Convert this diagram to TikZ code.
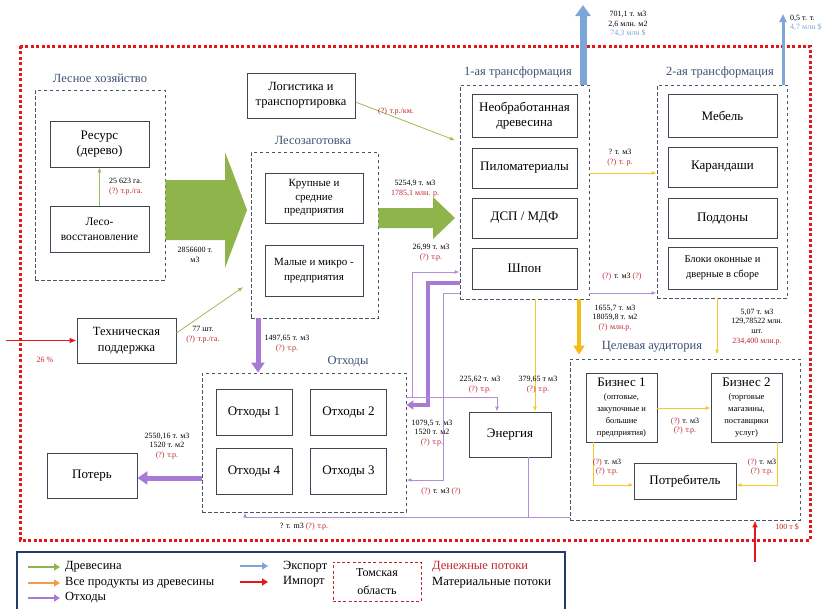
\documentclass[tikz,border=0pt]{standalone}
\usepackage{fontspec}
\setmainfont{Liberation Serif}
\usetikzlibrary{arrows.meta}
\definecolor{woodg}{RGB}{142,180,75}
\definecolor{woodgl}{RGB}{155,188,88}
\definecolor{purp}{RGB}{168,122,212}
\definecolor{purpl}{RGB}{178,142,216}
\definecolor{amber}{RGB}{245,188,20}
\definecolor{amberl}{RGB}{244,200,40}
\definecolor{orng}{RGB}{243,156,70}
\definecolor{expb}{RGB}{125,165,215}
\definecolor{impr}{RGB}{230,22,30}
\definecolor{brdr}{RGB}{226,24,24}
\definecolor{boxc}{RGB}{60,70,85}
\definecolor{grpc}{RGB}{75,85,100}
\definecolor{labc}{RGB}{60,80,112}
\definecolor{moneyc}{RGB}{192,36,44}
\definecolor{legc}{RGB}{35,60,105}
\newcommand\mr[1]{\textcolor{moneyc}{#1}}
\newcommand\eb[1]{\textcolor{expb}{#1}}
\begin{document}
\begin{tikzpicture}[x=1pt,y=-1pt,
  box/.style={draw=boxc, line width=0.9, fill=white, align=center, inner sep=1, text=black},
  grp/.style={draw=grpc, line width=0.9, dash pattern=on 3.5 off 2.5},
  glabel/.style={text=labc, font=\fontsize{12.5}{14}\selectfont, inner sep=0},
  lab/.style={font=\fontsize{8}{9.8}\selectfont, align=center, inner sep=0},
  gthin/.style={draw=woodgl, line width=0.8, -{Latex[length=5,width=4]}},
  ythin/.style={draw=amberl, line width=0.9, -{Latex[length=5,width=4]}},
  ythick/.style={draw=amber, line width=4.5, -{Triangle[length=9,width=11]}},
  pthin/.style={draw=purpl, line width=0.9, -{Latex[length=5,width=4]}},
  pthick/.style={draw=purp, line width=5, -{Triangle[length=10,width=13]}},
  pmid/.style={draw=purp, line width=4, -{Triangle[length=7,width=9]}},
  impa/.style={draw=impr, line width=1.8, -{Latex[length=7,width=6]}},
  expa/.style={draw=expb, line width=3, -{Triangle[length=8,width=7]}},
]
\useasboundingbox (0,0) rectangle (829,608);
\clip (0,0) rectangle (829,608);

% Tomsk region border
\draw[brdr, line width=3, dash pattern=on 3 off 2.4] (20,46) rectangle (810,540);

% ---------- Forestry ----------
\node[glabel] (lhlab) at (100,78) {Лесное хозяйство};
\node[grp, minimum width=130, minimum height=190] (lh) at (100,185) {};
\node[box, minimum width=99, minimum height=46, font=\fontsize{13}{15.5}\selectfont] (res) at (99.5,144) {Ресурс\\(дерево)};
\node[box, minimum width=99, minimum height=46, font=\fontsize{11.5}{15}\selectfont] (leso) at (99.5,229) {Лесо-\\восстановление};
\draw[gthin] (leso.north) -- (res.south);
\node[lab, anchor=west, align=left] at (109,187) {25 623 га.\\\mr{(?) т.р./га.}};

% ---------- Logistics ----------
\node[box, minimum width=108, minimum height=45, font=\fontsize{12.5}{15}\selectfont] (log) at (301,95.5) {Логистика и\\транспортировка};

% ---------- Harvesting ----------
\node[glabel] (lzlab) at (313,140) {Лесозаготовка};
\node[grp, minimum width=127, minimum height=166] (lzg) at (314.5,235) {};
\node[box, minimum width=98, minimum height=50, font=\fontsize{11}{13.5}\selectfont] (krup) at (314,198) {Крупные и\\средние\\предприятия};
\node[box, minimum width=98, minimum height=51, font=\fontsize{11}{15.5}\selectfont] (maly) at (314,270.5) {Малые и микро -\\предприятия};

% ---------- Transformation 1 ----------
\node[glabel] (t1lab) at (518,72) {1-ая трансформация};
\node[grp, minimum width=129, minimum height=214] (t1) at (524.5,192) {};
\begin{scope}[every node/.style={box, minimum width=105, font=\fontsize{13}{15.5}\selectfont}]
\node[minimum height=43] (neo) at (524.5,115.5) {Необработанная\\древесина};
\node[minimum height=40] (pilo) at (524.5,168) {Пиломатериалы};
\node[minimum height=40] (dsp) at (524.5,218) {ДСП / МДФ};
\node[minimum height=41] (shp) at (524.5,268.5) {Шпон};
\end{scope}

% ---------- Transformation 2 ----------
\node[glabel] (t2lab) at (720,72) {2-ая трансформация};
\node[grp, minimum width=130, minimum height=213] (t2) at (722,191.5) {};
\begin{scope}[every node/.style={box, minimum width=109, font=\fontsize{13}{15.5}\selectfont}]
\node[minimum height=43] (meb) at (722.5,115.5) {Мебель};
\node[minimum height=40] (kar) at (722.5,167) {Карандаши};
\node[minimum height=40] (pod) at (722.5,218) {Поддоны};
\node[minimum height=42, font=\fontsize{10.5}{15}\selectfont] (blk) at (722.5,268) {Блоки оконные и\\дверные в сборе};
\end{scope}

% ---------- Target audience ----------
\node[glabel] (tglab) at (652,347) {Целевая аудитория};
\node[grp, minimum width=230, minimum height=161] (tgt) at (685,439.5) {};
\node[box, minimum width=71, minimum height=69] (b1) at (621.5,407.5) {{\fontsize{13}{14}\selectfont Бизнес 1}\\[1pt]{\fontsize{8.5}{10}\selectfont (оптовые,}\\{\fontsize{8.5}{10}\selectfont закупочные и}\\{\fontsize{8.5}{10}\selectfont большие}\\{\fontsize{8.5}{10}\selectfont предприятия)}};
\node[box, minimum width=71, minimum height=69] (b2) at (746.5,407.5) {{\fontsize{13}{14}\selectfont Бизнес 2}\\[1pt]{\fontsize{8.5}{10}\selectfont (торговые}\\{\fontsize{8.5}{10}\selectfont магазины,}\\{\fontsize{8.5}{10}\selectfont поставщики}\\{\fontsize{8.5}{10}\selectfont услуг)}};
\node[box, minimum width=102, minimum height=36, font=\fontsize{13}{15}\selectfont] (pot) at (685,481) {Потребитель};

% ---------- Energy ----------
\node[box, minimum width=82, minimum height=45, font=\fontsize{13}{15}\selectfont] (en) at (510,434.5) {Энергия};

% ---------- Waste ----------
\node[glabel] (otlab) at (348,362) {Отходы};
\node[grp, minimum width=204, minimum height=139] (otk) at (304,442.5) {};
\begin{scope}[every node/.style={box, minimum width=76, minimum height=46, font=\fontsize{13}{15}\selectfont}]
\node (o1) at (254,412) {Отходы 1};
\node (o2) at (348.5,412) {Отходы 2};
\node (o4) at (254,471) {Отходы 4};
\node (o3) at (348.5,471) {Отходы 3};
\end{scope}

% ---------- Losses, technical support ----------
\node[box, minimum width=90, minimum height=45, font=\fontsize{13}{15}\selectfont] (los) at (92,475.5) {Потерь};
\node[box, minimum width=99, minimum height=45, font=\fontsize{12.5}{15.5}\selectfont] (tech) at (126.5,340.5) {Техническая\\поддержка};

% ================= connectors =================
% big green arrows
\fill[woodg] (lh.east |- 0,180) -- (225,180) -- (225,152) -- (247,210) -- (225,268) -- (225,240) -- (lh.east |- 0,240) -- cycle;
\node[lab] at (195,255) {2856600 т.\\м3};
\fill[woodg] (lzg.east |- 0,208) -- (433,208) -- (433,197) -- (455,218) -- (433,239) -- (433,228) -- (lzg.east |- 0,228) -- cycle;
\node[lab] at (415,189) {5254,9 т. м3\\\mr{1785,1 млн. р.}};

% logistics -> T1
\draw[gthin, shorten >=5] (log.east |- 0,102) -- (t1.west |- 0,142);
\node[lab] at (396,112) {\mr{(?) т.р./км.}};

% tech support -> harvesting
\draw[gthin, shorten >=9] (tech.east |- 0,333) -- (lzg.west |- 0,282);
\node[lab] at (203,335) {77 шт.\\\mr{(?) т.р./га.}};

% import -> tech
\coordinate (imp1) at (6,340.5);
\draw[impa] (imp1) -- (tech.west);
\node[lab] at (45,360) {\mr{26 \%}};

% exports
\coordinate (ex1) at (583,5);
\draw[draw=expb, line width=7, -{Triangle[length=11,width=15]}] (t1.north -| ex1) -- (ex1);
\node[lab] at (628,24) {701,1 т. м3\\2,6 млн. м2\\\eb{74,3 млн \$}};
\coordinate (ex2) at (783,14);
\draw[expa] (t2.north -| ex2) -- (ex2);
\node[lab, anchor=west, align=left] at (790,23) {0,5 т. т.\\\eb{4,7 млн \$}};

% T1 -> T2
\draw[ythin] (t1.east |- 0,173) -- (t2.west |- 0,173);
\node[lab] at (620,158) {? т. м3\\\mr{(?) т. р.}};
\draw[pthin] (t1.east |- 0,293) -- (t2.west |- 0,293);
\node[lab] at (622,277) {\mr{(?)} т. м3 \mr{(?)}};

% T1 -> target, T1 -> energy
\coordinate (ya) at (579,0);
\draw[ythick] (t1.south -| ya) -- ([yshift=4]tgt.north -| ya);
\node[lab] at (615,318) {1655,7 т. м3\\18059,8 т. м2\\\mr{(?) млн.р.}};
\coordinate (yb) at (535,0);
\draw[ythin] (t1.south -| yb) -- (en.north -| yb);
\node[lab] at (538,385) {379,65 т м3\\\mr{(?) т.р.}};

% T2 -> target
\coordinate (yc) at (717,0);
\draw[ythin] (t2.south -| yc) -- ([yshift=4]tgt.north -| yc);
\node[lab] at (757,327) {5,07 т. м3\\129,78522 млн.\\шт.\\\mr{234,400 млн.р.}};

% within target
\draw[ythin] (b1.east |- 0,408) -- (b2.west |- 0,408);
\node[lab] at (685,426) {\mr{(?)} т. м3\\\mr{(?) т.р.}};
\coordinate (yd) at (593,0);
\draw[ythin] (b1.south -| yd) |- (pot.west |- 0,485);
\node[lab] at (607,467) {\mr{(?)} т. м3\\\mr{(?) т.р.}};
\coordinate (ye) at (777,0);
\draw[ythin] (b2.south -| ye) |- (pot.east |- 0,485);
\node[lab] at (762,467) {\mr{(?)} т. м3\\\mr{(?) т.р.}};

% import -> target
\coordinate (imp2) at (755,562);
\draw[impa] (imp2) -- (tgt.south -| imp2);
\node[lab] at (787,527) {\mr{100 т \$}};

% harvesting -> waste
\coordinate (pa) at (258,0);
\draw[pthick] (lzg.south -| pa) -- (otk.north -| pa);
\node[lab] at (287,344) {1497,65 т. м3\\\mr{(?) т.р.}};

% waste -> losses
\draw[pthick] (otk.west |- 0,478) -- (los.east |- 0,478);
\node[lab] at (167,446) {2550,16 т. м3\\1520 т. м2\\\mr{(?) т.р.}};

% T1 -> waste (thick)
\draw[pmid] (t1.west |- 0,283) -| (428,405) -- (otk.east |- 0,405);
\node[lab] at (432,433) {1079,5 т. м3\\1520 т. м2\\\mr{(?) т.р.}};

% waste -> T1 (thin)
\draw[pthin] (otk.east |- 0,397) -- (412,397) |- (t1.west |- 0,272);
\node[lab] at (431,253) {26,99 т. м3\\\mr{(?) т.р.}};

% waste -> energy
\coordinate (pb) at (497,0);
\draw[pthin] (otk.east |- 0,397) -| (en.north -| pb);
\node[lab] at (480,385) {225,62 т. м3\\\mr{(?) т.р.}};

% T1 -> waste (thin, lower)
\draw[pthin] (t1.west |- 0,293) -| (443,480) -- (otk.east |- 0,480);
\node[lab] at (441,492) {\mr{(?)} т. м3 \mr{(?)}};

% energy / target -> waste (bottom)
\coordinate (pc) at (245,0);
\draw[pthin] (tgt.west |- 0,517) -- (pc |- 0,517) -- (otk.south -| pc);
\coordinate (pd) at (528,0);
\draw[draw=purpl, line width=0.9] (en.south -| pd) -- (pd |- 0,517);
\node[lab] at (304,527) {? т. m3 \mr{(?) т.р.}};

% ================= legend =================
\draw[legc, line width=2, fill=white] (17,552) rectangle (565,640);
\begin{scope}[every node/.style={anchor=west, inner sep=0, font=\fontsize{12.5}{14}\selectfont}]
\draw[draw=woodg, line width=2.5, -{Triangle[length=6,width=7]}] (28,567) -- (60,567);
\node at (65,567) {Древесина};
\draw[draw=orng, line width=2.5, -{Triangle[length=6,width=7]}] (28,583) -- (60,583);
\node at (65,583) {Все продукты из древесины};
\draw[draw=purp, line width=2.5, -{Triangle[length=6,width=7]}] (28,598) -- (60,598);
\node at (65,598) {Отходы};
\draw[draw=expb, line width=2.5, -{Triangle[length=6,width=7]}] (240,566) -- (268,566);
\node at (283,567) {Экспорт};
\draw[draw=impr, line width=2.5, -{Triangle[length=6,width=7]}] (240,582) -- (268,582);
\node at (283,582) {Импорт};
\node[text=moneyc] at (432,567) {Денежные потоки};
\node at (432,583) {Материальные потоки};
\end{scope}
\node[draw=moneyc, line width=0.9, dash pattern=on 3 off 2.2, minimum width=88, minimum height=39, align=center, inner sep=0, font=\fontsize{12}{18}\selectfont] (tom) at (377,581.5) {Томская\\область};
\end{tikzpicture}
\end{document}
